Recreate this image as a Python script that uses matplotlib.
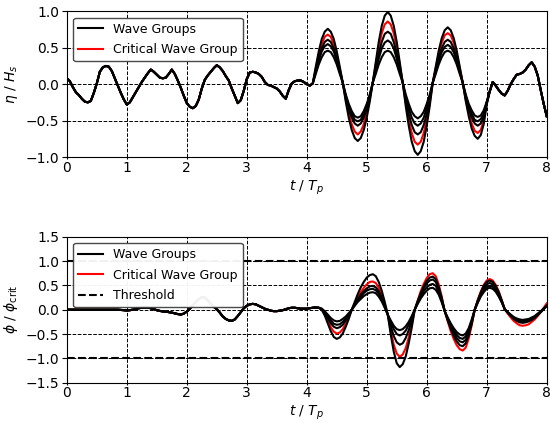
import numpy as np
import matplotlib
matplotlib.use("Agg")
import matplotlib.pyplot as plt
from matplotlib.lines import Line2D

# time axis in peak periods, 0.05 Tp spacing
t = np.round(np.arange(161) * 0.05, 2)

# ---- surface elevation eta / Hs ----
# shared record before the focused groups (t = 0 .. 4.05)
eta_calm_start = [
    0.08, 0.04, -0.04, -0.11, -0.15, -0.20, -0.24, -0.25, -0.23, -0.12,
    0.01, 0.17, 0.23, 0.25, 0.24, 0.18, 0.08, -0.02, -0.12, -0.21,
    -0.28, -0.25, -0.18, -0.11, -0.04, 0.03, 0.09, 0.15, 0.20, 0.17,
    0.13, 0.09, 0.08, 0.09, 0.14, 0.20, 0.14, 0.05, -0.05, -0.16,
    -0.26, -0.31, -0.33, -0.30, -0.21, -0.06, 0.06, 0.12, 0.17, 0.22,
    0.26, 0.23, 0.18, 0.11, 0.05, -0.06, -0.16, -0.26, -0.22, -0.09,
    0.07, 0.16, 0.17, 0.16, 0.14, 0.10, 0.03, -0.01, -0.02, -0.04,
    -0.06, -0.10, -0.16, -0.20, -0.08, 0.01, 0.04, 0.05, 0.05, 0.03,
    0.00, -0.02,
]
# shared record after the groups (t = 7.10 .. 8.00)
eta_calm_end = [
    0.03, -0.02, -0.08, -0.13, -0.155, -0.09, 0.00, 0.07, 0.13, 0.14,
    0.16, 0.20, 0.26, 0.30, 0.24, 0.12, -0.08, -0.27, -0.44,
]
# group section t = 4.10 .. 7.05, one list per wave group
eta_grp_1 = [
    0.01, 0.24, 0.45, 0.62, 0.72, 0.76, 0.72, 0.62, 0.45, 0.24,
    0.02, -0.24, -0.46, -0.63, -0.74, -0.78, -0.74, -0.63, -0.46, -0.24,
    0.02, 0.30, 0.58, 0.80, 0.94, 0.99, 0.94, 0.80, 0.58, 0.30,
    0.02, -0.30, -0.57, -0.79, -0.92, -0.97, -0.92, -0.79, -0.57, -0.30,
    0.02, 0.24, 0.46, 0.63, 0.74, 0.78, 0.74, 0.63, 0.46, 0.24,
    0.02, -0.23, -0.44, -0.61, -0.71, -0.75, -0.70, -0.55, -0.28, -0.10,
]
eta_grp_crit = [
    0.01, 0.21, 0.40, 0.55, 0.65, 0.68, 0.65, 0.55, 0.40, 0.21,
    0.02, -0.21, -0.40, -0.55, -0.65, -0.69, -0.65, -0.55, -0.40, -0.21,
    0.02, 0.27, 0.51, 0.70, 0.82, 0.86, 0.82, 0.70, 0.51, 0.27,
    0.02, -0.26, -0.49, -0.67, -0.79, -0.83, -0.79, -0.67, -0.49, -0.26,
    0.02, 0.22, 0.41, 0.57, 0.67, 0.70, 0.67, 0.57, 0.41, 0.22,
    0.02, -0.21, -0.39, -0.54, -0.64, -0.67, -0.63, -0.50, -0.27, -0.10,
]
eta_grp_3 = [
    0.01, 0.19, 0.36, 0.49, 0.58, 0.61, 0.58, 0.49, 0.36, 0.19,
    0.02, -0.18, -0.34, -0.46, -0.54, -0.57, -0.54, -0.46, -0.34, -0.18,
    0.02, 0.22, 0.42, 0.58, 0.69, 0.72, 0.69, 0.58, 0.42, 0.22,
    0.02, -0.21, -0.41, -0.56, -0.66, -0.69, -0.66, -0.56, -0.41, -0.21,
    0.02, 0.19, 0.36, 0.49, 0.58, 0.61, 0.58, 0.49, 0.36, 0.19,
    0.02, -0.18, -0.34, -0.46, -0.54, -0.57, -0.54, -0.45, -0.26, -0.10,
]
eta_grp_4 = [
    0.01, 0.17, 0.32, 0.45, 0.52, 0.55, 0.52, 0.45, 0.32, 0.17,
    0.02, -0.16, -0.30, -0.41, -0.49, -0.51, -0.49, -0.41, -0.30, -0.16,
    0.02, 0.19, 0.35, 0.49, 0.57, 0.60, 0.57, 0.49, 0.35, 0.19,
    0.02, -0.18, -0.33, -0.46, -0.54, -0.57, -0.54, -0.46, -0.33, -0.18,
    0.02, 0.17, 0.32, 0.44, 0.51, 0.54, 0.51, 0.44, 0.32, 0.17,
    0.02, -0.16, -0.30, -0.41, -0.49, -0.51, -0.48, -0.41, -0.25, -0.10,
]
eta_grp_5 = [
    0.01, 0.14, 0.27, 0.37, 0.44, 0.46, 0.44, 0.37, 0.27, 0.14,
    0.02, -0.14, -0.27, -0.37, -0.44, -0.46, -0.44, -0.37, -0.27, -0.14,
    0.02, 0.14, 0.27, 0.37, 0.44, 0.46, 0.44, 0.37, 0.27, 0.14,
    0.02, -0.14, -0.27, -0.38, -0.44, -0.47, -0.44, -0.38, -0.27, -0.14,
    0.02, 0.14, 0.27, 0.37, 0.44, 0.46, 0.44, 0.37, 0.27, 0.14,
    0.02, -0.14, -0.27, -0.36, -0.43, -0.45, -0.43, -0.36, -0.24, -0.10,
]

# ---- roll response phi / phi_crit ----
# shared response before the groups arrive (t = 0 .. 4.15)
phi_calm = [
    0.0, 0.0, 0.0, 0.0, 0.0, 0.0, 0.0, 0.0, 0.0, 0.0,
    0.0, 0.0, 0.0, 0.0, 0.0, 0.0, 0.0, 0.0, -0.005, -0.01,
    -0.015, -0.01, 0.0, 0.015, 0.03, 0.04, 0.045, 0.04, 0.03, 0.01,
    -0.01, -0.025, -0.035, -0.04, -0.05, -0.06, -0.075, -0.09, -0.10, -0.08,
    -0.04, 0.02, 0.09, 0.16, 0.22, 0.26, 0.25, 0.19, 0.12, 0.06,
    0.01, -0.06, -0.14, -0.19, -0.22, -0.23, -0.20, -0.13, -0.05, 0.03,
    0.08, 0.11, 0.12, 0.11, 0.08, 0.05, 0.02, 0.00, -0.02, -0.03,
    -0.03, -0.02, -0.01, 0.01, 0.03, 0.04, 0.04, 0.03, 0.02, 0.02,
    0.02, 0.03, 0.04, 0.045,
]
# response to each group, t = 4.20 .. 8.00
phi_grp_1 = [
    0.04, 0.00, -0.12, -0.28, -0.44, -0.56, -0.60, -0.57, -0.49, -0.35,
    -0.19, 0.00, 0.16, 0.32, 0.46, 0.57, 0.66, 0.71, 0.73, 0.69,
    0.57, 0.39, 0.16, -0.10, -0.51, -0.86, -1.10, -1.18, -1.12, -0.96,
    -0.69, -0.37, 0.00, 0.18, 0.34, 0.48, 0.59, 0.66, 0.68, 0.63,
    0.47, 0.24, -0.03, -0.22, -0.39, -0.54, -0.65, -0.73, -0.75, -0.69,
    -0.53, -0.29, 0.00, 0.19, 0.35, 0.49, 0.57, 0.60, 0.57, 0.49,
    0.36, 0.19, 0.01, -0.06, -0.13, -0.19, -0.23, -0.26, -0.27, -0.26,
    -0.24, -0.21, -0.17, -0.11, -0.05, 0.01, 0.08,
]
phi_grp_crit = [
    0.04, 0.00, -0.09, -0.23, -0.36, -0.45, -0.49, -0.47, -0.40, -0.29,
    -0.15, 0.00, 0.13, 0.25, 0.36, 0.45, 0.52, 0.57, 0.58, 0.55,
    0.45, 0.30, 0.11, -0.10, -0.43, -0.72, -0.90, -0.97, -0.92, -0.79,
    -0.57, -0.30, 0.00, 0.19, 0.38, 0.53, 0.65, 0.73, 0.75, 0.69,
    0.52, 0.27, -0.03, -0.24, -0.44, -0.60, -0.73, -0.81, -0.84, -0.78,
    -0.59, -0.32, 0.00, 0.20, 0.37, 0.51, 0.60, 0.63, 0.60, 0.51,
    0.38, 0.20, 0.01, -0.08, -0.16, -0.23, -0.28, -0.32, -0.33, -0.32,
    -0.30, -0.25, -0.20, -0.13, -0.05, 0.04, 0.13,
]
phi_grp_3 = [
    0.04, 0.01, -0.07, -0.17, -0.28, -0.35, -0.38, -0.36, -0.31, -0.22,
    -0.12, 0.00, 0.11, 0.21, 0.31, 0.38, 0.44, 0.48, 0.49, 0.46,
    0.38, 0.25, 0.08, -0.10, -0.34, -0.54, -0.67, -0.72, -0.69, -0.58,
    -0.42, -0.22, 0.00, 0.16, 0.31, 0.44, 0.54, 0.60, 0.62, 0.57,
    0.43, 0.22, -0.03, -0.20, -0.35, -0.48, -0.58, -0.65, -0.67, -0.62,
    -0.47, -0.26, 0.00, 0.17, 0.32, 0.45, 0.52, 0.55, 0.52, 0.45,
    0.33, 0.18, 0.01, -0.06, -0.12, -0.17, -0.22, -0.24, -0.25, -0.24,
    -0.23, -0.19, -0.15, -0.10, -0.05, 0.02, 0.08,
]
phi_grp_4 = [
    0.04, 0.02, -0.05, -0.14, -0.22, -0.29, -0.31, -0.30, -0.25, -0.18,
    -0.10, 0.00, 0.10, 0.19, 0.27, 0.34, 0.39, 0.42, 0.43, 0.40,
    0.33, 0.21, 0.06, -0.10, -0.27, -0.40, -0.50, -0.53, -0.50, -0.43,
    -0.31, -0.16, 0.00, 0.14, 0.27, 0.38, 0.46, 0.51, 0.53, 0.49,
    0.37, 0.18, -0.03, -0.18, -0.32, -0.43, -0.52, -0.58, -0.60, -0.55,
    -0.42, -0.23, 0.00, 0.15, 0.29, 0.40, 0.47, 0.49, 0.47, 0.40,
    0.29, 0.16, 0.01, -0.05, -0.11, -0.16, -0.20, -0.22, -0.23, -0.22,
    -0.21, -0.18, -0.14, -0.09, -0.04, 0.02, 0.08,
]
phi_grp_5 = [
    0.04, 0.02, -0.03, -0.10, -0.17, -0.22, -0.24, -0.23, -0.19, -0.14,
    -0.07, 0.00, 0.08, 0.16, 0.22, 0.28, 0.32, 0.35, 0.36, 0.34,
    0.27, 0.17, 0.04, -0.10, -0.22, -0.33, -0.40, -0.42, -0.40, -0.34,
    -0.25, -0.13, 0.00, 0.12, 0.23, 0.32, 0.39, 0.44, 0.45, 0.41,
    0.31, 0.15, -0.03, -0.16, -0.28, -0.38, -0.46, -0.51, -0.53, -0.49,
    -0.38, -0.20, 0.00, 0.14, 0.27, 0.36, 0.43, 0.45, 0.43, 0.37,
    0.27, 0.15, 0.01, -0.05, -0.10, -0.15, -0.18, -0.20, -0.21, -0.20,
    -0.19, -0.16, -0.13, -0.08, -0.03, 0.02, 0.08,
]

threshold = 1.0


def eta_series(window):
    return np.concatenate([eta_calm_start, window, eta_calm_end])


def phi_series(window):
    return np.concatenate([phi_calm, window])


eta_black = [eta_grp_1, eta_grp_3, eta_grp_4, eta_grp_5]
phi_black = [phi_grp_1, phi_grp_3, phi_grp_4, phi_grp_5]

fig = plt.figure(figsize=(5.5, 4.23), dpi=100)
ax1 = fig.add_axes([0.1215, 0.6288, 0.8725, 0.3445])
ax2 = fig.add_axes([0.1215, 0.0953, 0.8725, 0.3451])

lw = 1.5

# elevation
ax1.plot(t, eta_series(eta_grp_crit), color="r", lw=lw)
for w in eta_black:
    ax1.plot(t, eta_series(w), color="k", lw=lw)

# roll response
ax2.plot(t, phi_series(phi_grp_crit), color="r", lw=lw)
for w in phi_black:
    ax2.plot(t, phi_series(w), color="k", lw=lw)
ax2.axhline(threshold, color="k", ls="--", lw=lw)
ax2.axhline(-threshold, color="k", ls="--", lw=lw)

h_groups = Line2D([], [], color="k", lw=lw, label="Wave Groups")
h_crit = Line2D([], [], color="r", lw=lw, label="Critical Wave Group")
h_thr = Line2D([], [], color="k", lw=lw, ls="--", label="Threshold")
leg_kw = dict(loc="upper left", fontsize=9, labelspacing=0.62,
              framealpha=0.95, edgecolor="0.25")

for ax in (ax1, ax2):
    ax.set_xlim(0, 8)
    ax.set_xticks(range(9))
    ax.grid(True, color="k", linestyle="--", linewidth=0.7)
    ax.set_xlabel(r"$t$ / $T_p$", fontsize=10, labelpad=2.5)
    ax.tick_params(axis="both", labelsize=10)
    ax.tick_params(axis="x", length=1.5, pad=1.2)
    ax.tick_params(axis="y", length=3.5, pad=2)

ax1.set_ylim(-1, 1)
ax1.set_yticks([-1.0, -0.5, 0.0, 0.5, 1.0])
ax1.set_ylabel(r"$\eta$ / $H_s$", fontsize=10)
ax1.legend(handles=[h_groups, h_crit], **leg_kw)

ax2.set_ylim(-1.5, 1.5)
ax2.set_yticks([-1.5, -1.0, -0.5, 0.0, 0.5, 1.0, 1.5])
ax2.set_ylabel(r"$\phi$ / $\phi_{\rm crit}$", fontsize=10)
ax2.legend(handles=[h_groups, h_crit, h_thr], **leg_kw)

fig.savefig("out.png", dpi=100)
plt.close(fig)
